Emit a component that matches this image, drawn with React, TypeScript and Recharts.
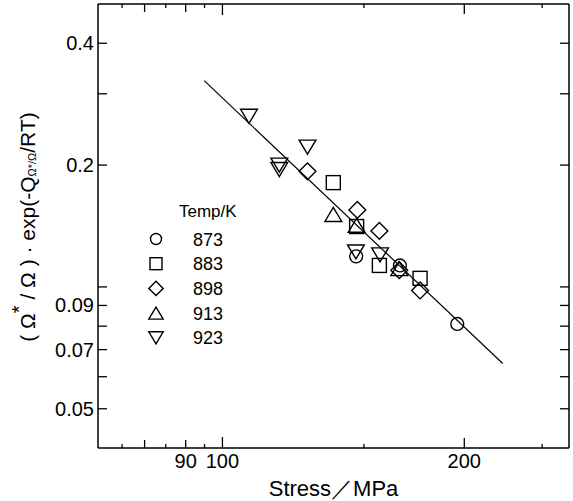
import { ScatterChart, Scatter, XAxis, YAxis } from 'recharts';

// stress (MPa) and normalised rate, one pair of arrays per temperature
const temps = ['873', '883', '898', '913', '923'];

const stress873 = [146.7, 166.3, 196];
const rate873 = [0.119, 0.113, 0.081];

const stress883 = [137.4, 146.9, 156.8, 176.2];
const rate883 = [0.181, 0.141, 0.113, 0.105];

const stress898 = [127.6, 147.2, 156.8, 166, 176.2];
const rate898 = [0.193, 0.155, 0.1375, 0.11, 0.098];

const stress913 = [137.4, 146.9, 166];
const rate913 = [0.151, 0.142, 0.111];

const stress923 = [107.9, 127.6, 117.7, 117.7, 146.6, 157.1];
const rate923 = [0.264, 0.2215, 0.2, 0.195, 0.122, 0.12];

// fitted line end points
const fitStress = [94.9, 223.3];
const fitRate = [0.3233, 0.0647];

const xTicks = [75, 80, 85, 90, 95, 100, 150, 200, 250];
const xLabels = [90, 100, 200];
const yTicks = [0.05, 0.06, 0.07, 0.08, 0.09, 0.1, 0.2, 0.3, 0.4];
const yLabels = [0.05, 0.07, 0.09, 0.2, 0.4];

const FONT = '"Liberation Sans", Arial, sans-serif';

const toPoints = (xs: number[], ys: number[]) => xs.map((x, i) => ({ x, y: ys[i] }));

const series = [
  { name: temps[0], kind: 'circle', data: toPoints(stress873, rate873) },
  { name: temps[1], kind: 'square', data: toPoints(stress883, rate883) },
  { name: temps[2], kind: 'diamond', data: toPoints(stress898, rate898) },
  { name: temps[3], kind: 'up', data: toPoints(stress913, rate913) },
  { name: temps[4], kind: 'down', data: toPoints(stress923, rate923) },
];
const fitData = toPoints(fitStress, fitRate);

function marker(kind: string, cx: number, cy: number, s: number) {
  const p = { fill: 'none', stroke: '#000', strokeWidth: 1.4 };
  switch (kind) {
    case 'circle':
      return <circle cx={cx} cy={cy} r={s * 0.46} {...p} />;
    case 'square':
      return <rect x={cx - s / 2} y={cy - s / 2} width={s} height={s} {...p} />;
    case 'diamond': {
      const d = s * 0.6;
      return <polygon points={`${cx},${cy - d} ${cx + d},${cy} ${cx},${cy + d} ${cx - d},${cy}`} {...p} />;
    }
    case 'up':
      return <polygon points={`${cx},${cy - s / 2} ${cx + s * 0.6},${cy + s / 2} ${cx - s * 0.6},${cy + s / 2}`} {...p} />;
    default:
      return <polygon points={`${cx - s * 0.6},${cy - s / 2} ${cx + s * 0.6},${cy - s / 2} ${cx},${cy + s / 2}`} {...p} />;
  }
}

const xTickLen = (v: number) => (v === 100 ? 11 : v === 200 ? 10 : v === 80 || v === 90 ? 8 : 4);

const BottomTick = ({ x, y, payload }: any) => {
  const v = payload.value;
  return (
    <g>
      <line x1={x} y1={y} x2={x} y2={y - xTickLen(v)} stroke="#000" strokeWidth={1.3} />
      {xLabels.includes(v) && (
        <text x={x} y={y + 20} textAnchor="middle" fontSize={20} fontFamily={FONT} fill="#000">
          {v}
        </text>
      )}
    </g>
  );
};

const TopTick = ({ x, y, payload }: any) => (
  <line x1={x} y1={y} x2={x} y2={y + xTickLen(payload.value)} stroke="#000" strokeWidth={1.3} />
);

const LeftTick = ({ x, y, payload }: any) => {
  const v = payload.value;
  return (
    <g>
      <line x1={x} y1={y} x2={x + 9} y2={y} stroke="#000" strokeWidth={1.3} />
      {yLabels.includes(v) && (
        <text x={x - 4} y={y + 7} textAnchor="end" fontSize={20} fontFamily={FONT} fill="#000">
          {v}
        </text>
      )}
    </g>
  );
};

const RightTick = ({ x, y }: any) => <line x1={x} y1={y} x2={x - 9} y2={y} stroke="#000" strokeWidth={1.3} />;

const YTitle = () => (
  <text
    x={27}
    y={227}
    transform="rotate(-90, 27, 227)"
    textAnchor="middle"
    dominantBaseline="central"
    fontSize={21}
    fontFamily={FONT}
    fill="#000"
  >
    ( Ω<tspan dy={-8} fontSize={20}>*</tspan>
    <tspan dy={8}> / Ω ) · exp(-Q</tspan>
    <tspan dy={5} fontSize={11}>Ω*/Ω</tspan>
    <tspan dy={-5}>/RT)</tspan>
  </text>
);

const TempLegend = () => (
  <svg width={110} height={160} style={{ position: 'absolute', left: 140, top: 195 }}>
    <text x={39} y={22} fontSize={17} fontFamily={FONT} fill="#000">
      Temp/K
    </text>
    {series.map((s, i) => {
      const cy = 44 + i * 24.7;
      return (
        <g key={s.name}>
          {marker(s.kind, 16, cy, 12)}
          <text x={53} y={cy + 6.5} fontSize={18} fontFamily={FONT} fill="#000">
            {s.name}
          </text>
        </g>
      );
    })}
  </svg>
);

export default function App() {
  return (
    <div style={{ position: 'absolute', left: 0, top: 0, width: 573, height: 501, background: '#fff' }}>
      <ScatterChart width={573} height={501} margin={{ top: 3, right: 3, left: 0, bottom: 0 }}>
        <XAxis
          xAxisId="bottom"
          dataKey="x"
          type="number"
          scale="log"
          domain={[70, 270]}
          allowDataOverflow
          ticks={xTicks}
          interval={0}
          height={53}
          tickSize={0}
          tickMargin={0}
          tickLine={false}
          axisLine={{ stroke: '#000', strokeWidth: 1.5 }}
          tick={<BottomTick />}
          label={{ value: 'Stress／MPa', position: 'insideBottom', offset: 5, fontSize: 22, fontFamily: FONT, fill: '#000' }}
        />
        <XAxis
          xAxisId="top"
          orientation="top"
          dataKey="x"
          type="number"
          scale="log"
          domain={[70, 270]}
          allowDataOverflow
          ticks={xTicks}
          interval={0}
          height={1}
          tickSize={0}
          tickMargin={0}
          tickLine={false}
          axisLine={{ stroke: '#000', strokeWidth: 1.5 }}
          tick={<TopTick />}
        />
        <YAxis
          yAxisId="left"
          dataKey="y"
          type="number"
          scale="log"
          domain={[0.04, 0.5]}
          allowDataOverflow
          ticks={yTicks}
          interval={0}
          width={98}
          tickSize={0}
          tickMargin={0}
          tickLine={false}
          axisLine={{ stroke: '#000', strokeWidth: 1.5 }}
          tick={<LeftTick />}
          label={<YTitle />}
        />
        <YAxis
          yAxisId="right"
          orientation="right"
          dataKey="y"
          type="number"
          scale="log"
          domain={[0.04, 0.5]}
          allowDataOverflow
          ticks={yTicks}
          interval={0}
          width={1}
          tickSize={0}
          tickMargin={0}
          tickLine={false}
          axisLine={{ stroke: '#000', strokeWidth: 1.5 }}
          tick={<RightTick />}
        />
        <Scatter
          xAxisId="bottom"
          yAxisId="left"
          data={fitData}
          line={{ stroke: '#000', strokeWidth: 1.2 }}
          shape={() => <g />}
          legendType="none"
          isAnimationActive={false}
        />
        <Scatter
          xAxisId="top"
          yAxisId="right"
          data={fitData}
          shape={() => <g />}
          legendType="none"
          isAnimationActive={false}
        />
        {series.map((s) => (
          <Scatter
            key={s.name}
            name={s.name}
            xAxisId="bottom"
            yAxisId="left"
            data={s.data}
            shape={(props: any) => marker(s.kind, props.cx, props.cy, 14)}
            isAnimationActive={false}
          />
        ))}
      </ScatterChart>
      <TempLegend />
    </div>
  );
}
